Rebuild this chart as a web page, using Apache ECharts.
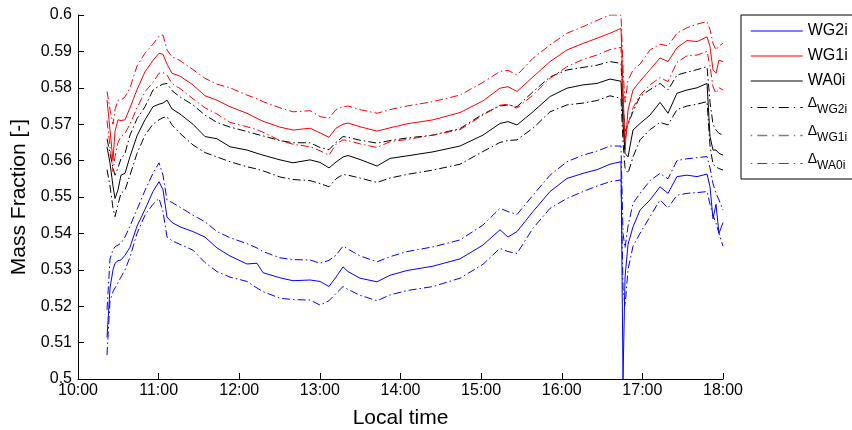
<!DOCTYPE html>
<html>
<head>
<meta charset="utf-8">
<script src="https://cdn.jsdelivr.net/npm/echarts@6/dist/echarts.min.js"></script>
<style>
html,body{margin:0;padding:0;background:#fff;}
#chart{width:852px;height:430px;}
</style>
</head>
<body>
<div id="chart"></div>
<script>
// Local time in decimal hours
const hours = [10.360,10.397,10.434,10.459,10.496,10.533,10.583,10.645,10.732,10.831,10.930,11.005,11.054,11.104,11.166,11.265,11.426,11.575,11.724,11.885,12.096,12.220,12.295,12.505,12.667,12.878,13.002,13.113,13.200,13.287,13.349,13.498,13.709,13.870,14.081,14.403,14.738,15.023,15.234,15.333,15.445,15.643,15.855,16.065,16.264,16.437,16.598,16.735,16.760,16.785,16.822,16.884,16.971,17.095,17.219,17.318,17.429,17.554,17.678,17.802,17.839,17.876,17.913,17.950,18.000];

const wg2i = [0.5115,0.5250,0.5300,0.5318,0.5325,0.5327,0.5340,0.5362,0.5420,0.5466,0.5515,0.5542,0.5520,0.5445,0.5430,0.5418,0.5405,0.5390,0.5360,0.5338,0.5316,0.5318,0.5292,0.5278,0.5270,0.5272,0.5268,0.5254,0.5280,0.5308,0.5295,0.5277,0.5267,0.5285,0.5298,0.5310,0.5330,0.5368,0.5410,0.5390,0.5405,0.5460,0.5515,0.5551,0.5565,0.5575,0.5590,0.5597,0.5000,0.5280,0.5370,0.5418,0.5464,0.5492,0.5528,0.5510,0.5556,0.5560,0.5556,0.5563,0.5528,0.5440,0.5480,0.5400,0.5430];

const wg1i = [0.5767,0.5684,0.5600,0.5680,0.5712,0.5710,0.5712,0.5745,0.5795,0.5844,0.5875,0.5895,0.5892,0.5865,0.5840,0.5832,0.5808,0.5778,0.5766,0.5748,0.5730,0.5716,0.5708,0.5692,0.5684,0.5689,0.5676,0.5664,0.5689,0.5700,0.5703,0.5693,0.5681,0.5690,0.5701,0.5712,0.5732,0.5764,0.5799,0.5803,0.5790,0.5830,0.5872,0.5904,0.5922,0.5936,0.5950,0.5963,0.5800,0.5630,0.5739,0.5794,0.5818,0.5850,0.5882,0.5872,0.5910,0.5930,0.5927,0.5940,0.5913,0.5849,0.5840,0.5876,0.5872];

const wa0i = [0.5638,0.5593,0.5530,0.5496,0.5519,0.5560,0.5565,0.5611,0.5668,0.5712,0.5748,0.5755,0.5758,0.5766,0.5742,0.5728,0.5700,0.5666,0.5660,0.5638,0.5629,0.5620,0.5615,0.5602,0.5594,0.5602,0.5595,0.5580,0.5596,0.5610,0.5614,0.5603,0.5585,0.5606,0.5613,0.5624,0.5640,0.5670,0.5702,0.5707,0.5698,0.5734,0.5776,0.5799,0.5808,0.5812,0.5824,0.5818,0.5700,0.5620,0.5610,0.5684,0.5702,0.5725,0.5760,0.5730,0.5785,0.5794,0.5800,0.5812,0.5666,0.5629,0.5629,0.5620,0.5615];

const wg2iUpper = [0.5190,0.5330,0.5355,0.5363,0.5368,0.5373,0.5390,0.5420,0.5466,0.5518,0.5565,0.5594,0.5560,0.5492,0.5485,0.5472,0.5450,0.5432,0.5405,0.5388,0.5372,0.5360,0.5350,0.5333,0.5328,0.5327,0.5318,0.5326,0.5340,0.5365,0.5357,0.5338,0.5322,0.5336,0.5350,0.5363,0.5382,0.5423,0.5469,0.5460,0.5452,0.5505,0.5560,0.5597,0.5615,0.5626,0.5640,0.5640,0.5400,0.5360,0.5420,0.5483,0.5510,0.5545,0.5565,0.5550,0.5600,0.5605,0.5608,0.5611,0.5580,0.5537,0.5510,0.5492,0.5464];

const wg2iLower = [0.5066,0.5215,0.5240,0.5250,0.5265,0.5280,0.5300,0.5335,0.5400,0.5450,0.5480,0.5496,0.5460,0.5390,0.5380,0.5370,0.5354,0.5320,0.5295,0.5280,0.5268,0.5250,0.5240,0.5222,0.5218,0.5217,0.5203,0.5215,0.5235,0.5254,0.5246,0.5230,0.5215,0.5231,0.5243,0.5254,0.5277,0.5315,0.5359,0.5350,0.5345,0.5414,0.5469,0.5496,0.5515,0.5530,0.5542,0.5547,0.5250,0.5200,0.5300,0.5365,0.5400,0.5446,0.5492,0.5470,0.5505,0.5510,0.5512,0.5515,0.5480,0.5450,0.5428,0.5400,0.5365];

const wg1iUpper = [0.5790,0.5740,0.5700,0.5740,0.5766,0.5766,0.5775,0.5800,0.5860,0.5895,0.5920,0.5942,0.5945,0.5904,0.5885,0.5875,0.5850,0.5826,0.5810,0.5800,0.5780,0.5770,0.5762,0.5745,0.5734,0.5737,0.5721,0.5716,0.5740,0.5748,0.5750,0.5740,0.5730,0.5740,0.5750,0.5762,0.5780,0.5815,0.5845,0.5848,0.5835,0.5881,0.5918,0.5950,0.5968,0.5985,0.6000,0.6000,0.5850,0.5760,0.5820,0.5849,0.5865,0.5904,0.5920,0.5915,0.5950,0.5965,0.5975,0.5982,0.5960,0.5922,0.5904,0.5915,0.5922];

const wg1iLower = [0.5710,0.5640,0.5570,0.5610,0.5650,0.5666,0.5675,0.5700,0.5745,0.5789,0.5815,0.5840,0.5842,0.5835,0.5812,0.5798,0.5770,0.5745,0.5728,0.5705,0.5693,0.5685,0.5678,0.5655,0.5645,0.5638,0.5627,0.5615,0.5645,0.5657,0.5655,0.5646,0.5636,0.5652,0.5658,0.5670,0.5685,0.5725,0.5752,0.5755,0.5744,0.5780,0.5826,0.5858,0.5878,0.5890,0.5905,0.5911,0.5750,0.5660,0.5700,0.5745,0.5780,0.5808,0.5828,0.5817,0.5870,0.5888,0.5890,0.5900,0.5860,0.5803,0.5785,0.5800,0.5794];

const wa0iUpper = [0.5660,0.5620,0.5580,0.5560,0.5580,0.5605,0.5620,0.5670,0.5715,0.5748,0.5794,0.5805,0.5810,0.5812,0.5792,0.5775,0.5753,0.5725,0.5705,0.5692,0.5680,0.5672,0.5668,0.5655,0.5649,0.5649,0.5636,0.5630,0.5650,0.5666,0.5664,0.5656,0.5648,0.5655,0.5662,0.5670,0.5688,0.5728,0.5750,0.5753,0.5748,0.5789,0.5830,0.5849,0.5856,0.5862,0.5872,0.5867,0.5760,0.5680,0.5700,0.5735,0.5776,0.5795,0.5812,0.5794,0.5835,0.5843,0.5850,0.5858,0.5760,0.5700,0.5684,0.5675,0.5670];

const wa0iLower = [0.5575,0.5530,0.5470,0.5446,0.5480,0.5510,0.5519,0.5560,0.5620,0.5670,0.5700,0.5712,0.5718,0.5721,0.5698,0.5675,0.5643,0.5622,0.5610,0.5597,0.5583,0.5577,0.5572,0.5555,0.5548,0.5545,0.5537,0.5528,0.5550,0.5562,0.5560,0.5552,0.5540,0.5552,0.5562,0.5574,0.5590,0.5625,0.5650,0.5655,0.5657,0.5689,0.5734,0.5753,0.5758,0.5765,0.5778,0.5771,0.5650,0.5580,0.5565,0.5610,0.5657,0.5685,0.5705,0.5698,0.5740,0.5750,0.5755,0.5762,0.5640,0.5590,0.5583,0.5578,0.5574];

const legendNames = ['WG2i','WG1i','WA0i','ΔWG2i','ΔWG1i','ΔWA0i'];

const FONT = 'Liberation Sans';
const DASHDOT = [8, 3, 1.5, 3];
const LEGEND_DASHDOT = [1.5, 5, 10, 5];

function pairs(arr){ return hours.map((h,i)=>[h, arr[i]]); }
function solid(name, arr, color){
  return {name, type:'line', data:pairs(arr), symbol:'none', showSymbol:false,
    lineStyle:{color, width:1}, itemStyle:{color}, z:3};
}
function band(name, arr, color){
  return {name, type:'line', data:pairs(arr), symbol:'none', showSymbol:false,
    lineStyle:{color, width:1, type:DASHDOT}, itemStyle:{color}, z:2};
}

const chart = echarts.init(document.getElementById('chart'), null, {renderer:'canvas'});
chart.setOption({
  animation:false,
  backgroundColor:'#fff',
  textStyle:{fontFamily:FONT},
  grid:{left:78, right:129, top:15, bottom:51, containLabel:false, outerBoundsMode:'none'},
  xAxis:{
    type:'value', min:10, max:18, interval:1,
    name:'Local time', nameLocation:'middle', nameGap:29,
    nameTextStyle:{fontSize:21, color:'#000', fontFamily:FONT},
    axisLine:{show:true, lineStyle:{color:'#000', width:1}},
    axisTick:{show:true, inside:true, length:6, lineStyle:{color:'#000'}},
    axisLabel:{color:'#000', fontSize:16, fontFamily:FONT, margin:4,
      formatter:v=>v+':00'},
    splitLine:{show:false}
  },
  yAxis:{
    type:'value', min:0.5, max:0.6, interval:0.01,
    name:'Mass Fraction [-]', nameLocation:'middle', nameGap:46,
    nameTextStyle:{fontSize:21, color:'#000', fontFamily:FONT},
    axisLine:{show:true, lineStyle:{color:'#000', width:1}},
    axisTick:{show:true, inside:true, length:6, lineStyle:{color:'#000'}},
    axisLabel:{color:'#000', fontSize:16, fontFamily:FONT, margin:6,
      formatter:v=>String(parseFloat(v.toFixed(2)))},
    splitLine:{show:false}
  },
  legend:{
    orient:'vertical', left:741, top:15,
    padding:[6,40,4,9],
    itemWidth:52, itemHeight:14, itemGap:5,
    borderColor:'#000', borderWidth:1, backgroundColor:'#fff',
    selectedMode:false,
    itemStyle:{opacity:0, borderWidth:0},
    textStyle:{fontSize:16, lineHeight:20, color:'#000', fontFamily:FONT,
      rich:{
        d:{fontSize:14, lineHeight:13, color:'#000', fontFamily:FONT, padding:[0,0,9,0]},
        s:{fontSize:12, lineHeight:12, color:'#000', fontFamily:FONT, padding:[7,0,3,0]}
      }},
    formatter:n=> n.charAt(0)==='Δ' ? '{d|Δ}{s|'+n.slice(1)+'}' : n,
    data:[
      {name:legendNames[0], itemStyle:{opacity:0}, lineStyle:{color:'#0000ff', type:'solid', width:1}},
      {name:legendNames[1], itemStyle:{opacity:0}, lineStyle:{color:'#ff0000', type:'solid', width:1}},
      {name:legendNames[2], itemStyle:{opacity:0}, lineStyle:{color:'#000000', type:'solid', width:1}},
      {name:legendNames[3], itemStyle:{opacity:0}, lineStyle:{color:'#000000', type:LEGEND_DASHDOT, width:1}},
      {name:legendNames[4], itemStyle:{opacity:0}, lineStyle:{color:'#808080', type:LEGEND_DASHDOT, width:1.5}},
      {name:legendNames[5], itemStyle:{opacity:0}, lineStyle:{color:'#ff0000', type:LEGEND_DASHDOT, width:1}}
    ]
  },
  series:[
    band(legendNames[3], wg2iUpper, '#0000ff'),
    band(legendNames[3], wg2iLower, '#0000ff'),
    band(legendNames[5], wa0iUpper, '#000000'),
    band(legendNames[5], wa0iLower, '#000000'),
    band(legendNames[4], wg1iUpper, '#ff0000'),
    band(legendNames[4], wg1iLower, '#ff0000'),
    solid(legendNames[0], wg2i, '#0000ff'),
    solid(legendNames[1], wg1i, '#ff0000'),
    solid(legendNames[2], wa0i, '#000000')
  ]
});
</script>
</body>
</html>
